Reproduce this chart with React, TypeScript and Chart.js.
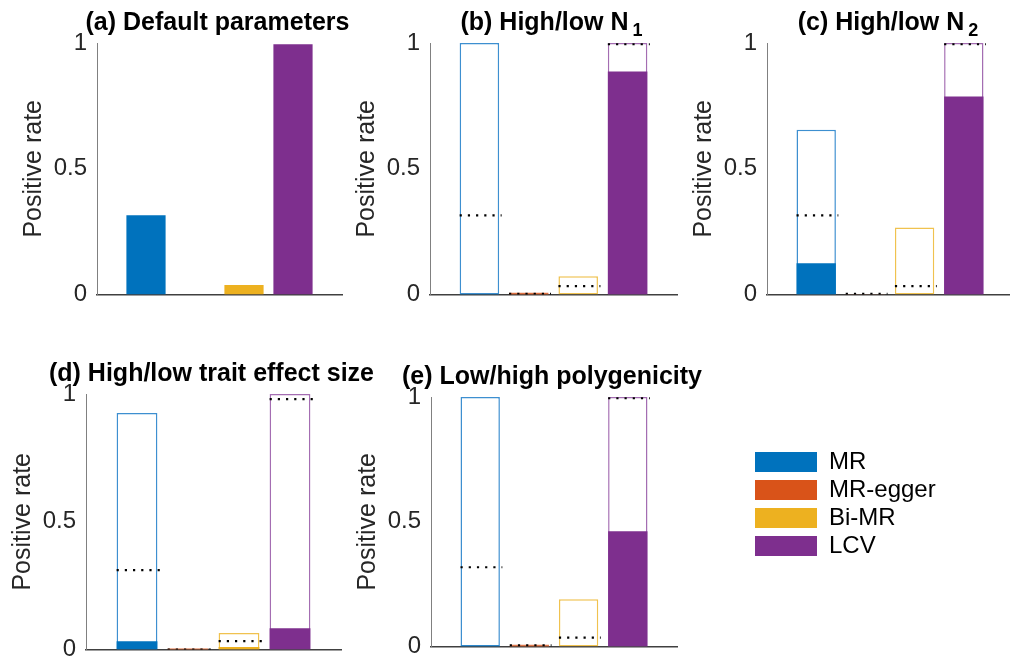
import React, { useEffect, useRef } from 'react';
import { Chart, registerables } from 'chart.js';

Chart.register(...registerables);

const FONT = '"Liberation Sans", Arial, Helvetica, sans-serif';

// Methods (legend) and colours
const METHODS = ['MR', 'MR-egger', 'Bi-MR', 'LCV'];
const METHOD_COLORS = ['#0072BD', '#D95319', '#EDB120', '#7E2F8E'];
const OUTLINE_COLORS = ['#3D8FD0', '#E07A4E', '#F0C24F', '#A46DB2'];
const POSITIONS = [1, 2, 3, 4];
const Y_TICKS = [0, 0.5, 1];

// (a) Default parameters
const DEFAULT_RATE = [0.315, 0, 0.038, 0.995];

// (b) High/low N1 : outline = high, filled = low, dotted = default
const N1_HIGH = [1.0, 0.008, 0.073, 1.0];
const N1_LOW = [0.002, 0.003, 0.0, 0.887];
const N1_REF = [0.315, 0.003, 0.034, 0.995];

// (c) High/low N2
const N2_HIGH = [0.655, 0.002, 0.267, 1.0];
const N2_LOW = [0.125, 0.0, 0.0, 0.787];
const N2_REF = [0.315, 0.003, 0.034, 0.995];

// (d) High/low trait effect size
const EFF_HIGH = [0.926, 0.005, 0.065, 1.0];
const EFF_LOW = [0.033, 0.002, 0.01, 0.084];
const EFF_REF = [0.311, 0.0, 0.033, 0.98];

// (e) Low/high polygenicity : outline = low, filled = high
const POLY_LOW = [1.0, 0.008, 0.19, 1.0];
const POLY_HIGH = [0.003, 0.002, 0.0, 0.462];
const POLY_REF = [0.318, 0.005, 0.036, 0.995];

type Rect = { L: number; T: number; R: number; B: number };

type PanelProps = {
  title: string;
  sub?: string;
  outline?: number[];
  filled: number[];
  reference?: number[];
  rect: Rect;
};

const AXIS_W = 90;
const PAD_TOP = 43;
const PAD_RIGHT = 40;
const PAD_BOTTOM = 22;

const titlePlugin = {
  id: 'panelTitle',
  afterDraw(chart: any) {
    const opts = chart.options.plugins.panelTitle;
    if (!opts) return;
    const { ctx, chartArea } = chart;
    ctx.save();
    ctx.fillStyle = '#000';
    ctx.textBaseline = 'alphabetic';
    ctx.textAlign = 'left';
    const mainFont = `bold 25px ${FONT}`;
    const subFont = `bold 18px ${FONT}`;
    ctx.font = mainFont;
    const mw = ctx.measureText(opts.text).width;
    let sw = 0;
    if (opts.sub) {
      ctx.font = subFont;
      sw = ctx.measureText(opts.sub).width + 4;
    }
    const cx = (chartArea.left + chartArea.right) / 2 - 2;
    const x0 = cx - (mw + sw) / 2;
    const base = chartArea.top - 13;
    ctx.font = mainFont;
    ctx.fillText(opts.text, x0, base);
    if (opts.sub) {
      ctx.font = subFont;
      ctx.fillText(opts.sub, x0 + mw + 4, base + 6);
    }
    ctx.restore();
  },
};

function dottedSegments(values: number[]) {
  const pts: { x: number; y: number | null }[] = [];
  values.forEach((v, i) => {
    const p = POSITIONS[i];
    pts.push({ x: p - 0.4, y: v });
    pts.push({ x: p + 0.45, y: v });
    pts.push({ x: p + 0.5, y: null });
  });
  return pts;
}

function Panel({ title, sub, outline, filled, reference, rect }: PanelProps) {
  const ref = useRef<HTMLCanvasElement>(null);
  const width = AXIS_W + (rect.R - rect.L) + PAD_RIGHT;
  const height = PAD_TOP + (rect.B - rect.T) + PAD_BOTTOM;

  useEffect(() => {
    if (!ref.current) return;
    const datasets: any[] = [];
    if (reference) {
      datasets.push({
        type: 'line',
        label: 'default',
        data: dottedSegments(reference),
        borderColor: '#000000',
        borderWidth: 2.2,
        borderDash: [2.2, 6],
        pointRadius: 0,
        spanGaps: false,
        order: 0,
      });
    }
    datasets.push({
      type: 'bar',
      label: 'filled',
      data: POSITIONS.map((x, i) => ({ x, y: filled[i] })),
      backgroundColor: METHOD_COLORS,
      borderWidth: 0,
      grouped: false,
      barPercentage: 0.8,
      categoryPercentage: 1,
      order: 1,
    });
    if (outline) {
      datasets.push({
        type: 'bar',
        label: 'outline',
        data: POSITIONS.map((x, i) => ({ x, y: outline[i] })),
        backgroundColor: '#ffffff',
        borderColor: OUTLINE_COLORS,
        borderWidth: 1.5,
        borderSkipped: false,
        grouped: false,
        barPercentage: 0.8,
        categoryPercentage: 1,
        order: 2,
      });
    }
    const chart = new Chart(ref.current, {
      type: 'bar',
      data: { datasets },
      options: {
        animation: false,
        responsive: false,
        events: [],
        layout: { padding: { left: 0, top: PAD_TOP, right: PAD_RIGHT, bottom: PAD_BOTTOM } },
        scales: {
          x: {
            type: 'linear',
            min: 0,
            max: 5,
            offset: false,
            z: 1,
            ticks: { display: false, stepSize: 1 },
            grid: { display: false, drawTicks: false },
            border: { display: true, color: '#404040', width: 1.5 },
            afterFit: (s: any) => {
              s.height = 0;
            },
          },
          y: {
            type: 'linear',
            min: 0,
            max: 1,
            afterBuildTicks: (s: any) => {
              s.ticks = Y_TICKS.map((v) => ({ value: v }));
            },
            ticks: {
              padding: 10,
              color: '#262626',
              font: { family: FONT, size: 24 },
              callback: (v: any) => String(v),
            },
            grid: { display: false, drawTicks: false },
            border: { display: true, color: '#808080', width: 1 },
            title: {
              display: true,
              text: 'Positive rate',
              color: '#262626',
              font: { family: FONT, size: 25 },
              padding: { top: 12, bottom: 0 },
            },
            afterFit: (s: any) => {
              s.width = AXIS_W;
            },
          },
        },
        plugins: {
          legend: { display: false },
          tooltip: { enabled: false },
          panelTitle: { text: title, sub },
        } as any,
      },
      plugins: [titlePlugin],
    } as any);
    return () => chart.destroy();
  }, []);

  return (
    <canvas
      ref={ref}
      width={width}
      height={height}
      style={{ position: 'absolute', left: rect.L - AXIS_W, top: rect.T - PAD_TOP, width, height }}
    />
  );
}

function LegendPanel() {
  const ref = useRef<HTMLCanvasElement>(null);
  useEffect(() => {
    if (!ref.current) return;
    const chart = new Chart(ref.current, {
      type: 'bar',
      data: {
        labels: [],
        datasets: METHODS.map((m, i) => ({
          label: m,
          data: [],
          backgroundColor: METHOD_COLORS[i],
          borderWidth: 0,
        })),
      },
      options: {
        animation: false,
        responsive: false,
        events: [],
        layout: { padding: 0 },
        scales: { x: { display: false }, y: { display: false } },
        plugins: {
          tooltip: { enabled: false },
          legend: {
            display: true,
            position: 'left',
            align: 'start',
            maxWidth: 400,
            labels: {
              boxWidth: 62,
              boxHeight: 20,
              padding: 4,
              color: '#000000',
              font: { family: FONT, size: 24 },
            },
          },
        },
      },
    } as any);
    return () => chart.destroy();
  }, []);
  return (
    <canvas
      ref={ref}
      width={240}
      height={130}
      style={{ position: 'absolute', left: 751, top: 446, width: 240, height: 130 }}
    />
  );
}

export default function App() {
  return (
    <div
      style={{
        position: 'absolute',
        left: 0,
        top: 0,
        width: 1010,
        height: 667,
        overflow: 'hidden',
        background: '#ffffff',
      }}
    >
      <Panel title="(a) Default parameters" filled={DEFAULT_RATE} rect={{ L: 97, T: 43, R: 342, B: 297 }} />
      <Panel
        title="(b) High/low N"
        sub="1"
        outline={N1_HIGH}
        filled={N1_LOW}
        reference={N1_REF}
        rect={{ L: 430, T: 43, R: 677, B: 297 }}
      />
      <Panel
        title="(c) High/low N"
        sub="2"
        outline={N2_HIGH}
        filled={N2_LOW}
        reference={N2_REF}
        rect={{ L: 767, T: 43, R: 1013, B: 297 }}
      />
      <Panel
        title="(d) High/low trait effect size"
        outline={EFF_HIGH}
        filled={EFF_LOW}
        reference={EFF_REF}
        rect={{ L: 86, T: 394, R: 341, B: 652 }}
      />
      <Panel
        title="(e) Low/high polygenicity"
        outline={POLY_LOW}
        filled={POLY_HIGH}
        reference={POLY_REF}
        rect={{ L: 431, T: 397, R: 677, B: 649 }}
      />
      <LegendPanel />
    </div>
  );
}
